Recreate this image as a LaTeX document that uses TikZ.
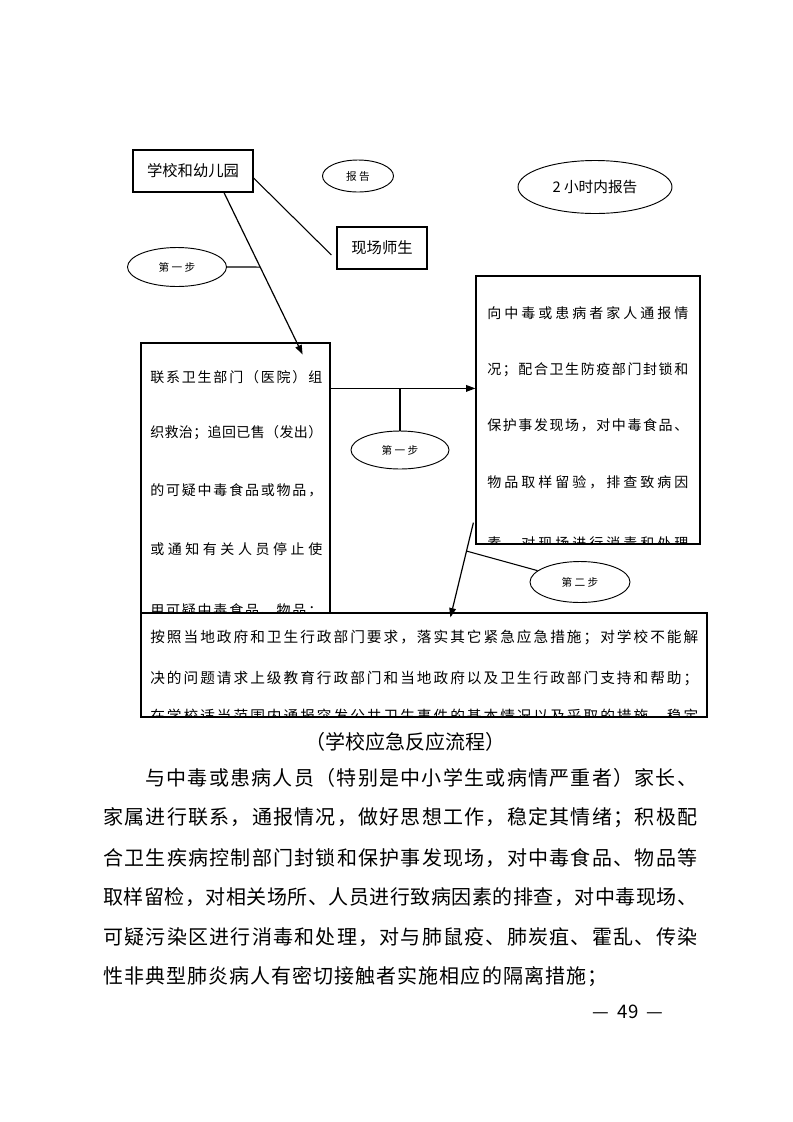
\documentclass[tikz,border=0pt]{standalone}
\usepackage{fontspec}
\setmainfont{Noto Sans CJK SC}
\usepackage{tikz}
\usetikzlibrary{shapes.geometric,arrows.meta,calc}
\newdimen\px \px=0.75pt
% spread the characters of one line evenly over a given width
\def\spreadA#1{\ifx#1\relax\else#1\expandafter\spreadB\fi}
\def\spreadB#1{\ifx#1\relax\else\hfil#1\expandafter\spreadB\fi}
\newcommand{\spaced}[2]{\hbox to #1{\expandafter\spreadA#2\relax}}

\begin{document}
\begin{tikzpicture}[
  x=0.75pt, y=-0.75pt, >={Triangle[length=7pt,width=5pt]},
  box/.style={draw, line width=0.9pt, inner sep=0pt},
  oval/.style={draw, ellipse, line width=0.7pt, inner sep=0pt, font=\fontsize{8}{9}\selectfont},
  link/.style={line width=0.8pt},
  arr/.style={->, line width=0.9pt},
  boxline/.style={anchor=west, inner sep=0pt, font=\fontsize{10.5}{12}\selectfont},
  bodyline/.style={anchor=west, inner sep=0pt, font=\fontsize{15}{18}\selectfont}
]
\useasboundingbox (0,0) rectangle (793,1122);

% boxes
\node[box, minimum width=120\px, minimum height=42\px, font=\fontsize{11.5}{13}\selectfont] (school) at (193,171) {学校和幼儿园};
\node[box, minimum width=90\px, minimum height=42\px, font=\fontsize{11.5}{13}\selectfont] (teach) at (382,248) {现场师生};
\node[box, minimum width=189\px, minimum height=270\px] (act) at (235.5,478) {};
\node[box, minimum width=224\px, minimum height=268\px] (info) at (588,410) {};
\node[box, minimum width=566\px, minimum height=104\px] (help) at (424,665) {};

% ovals
\node[oval, minimum width=71\px, minimum height=32\px] (rep) at (358,176) {报~告};
\node[oval, minimum width=154\px, minimum height=53\px, font=\fontsize{11}{12}\selectfont] (rep2) at (595,187) {2 小时内报告};
\node[oval, minimum width=99\px, minimum height=39\px] (stepA) at (177,267) {第~一~步};
\node[oval, minimum width=98\px, minimum height=38\px] (stepB) at (400,450) {第~一~步};
\node[oval, minimum width=100\px, minimum height=41\px] (stepC) at (580,582) {第~二~步};

% box texts
\begin{scope}
  \clip ([yshift=0.6pt]act.south west) rectangle ([yshift=-0.6pt]act.north east);
  \node[boxline] (a1) at (150,377) {\spaced{172\px}{联系卫生部门（医院）组}};
  \node[boxline] (a2) at (150,433) {\spaced{172\px}{织救治；追回已售（发出）}};
  \node[boxline] (a3) at (150,490) {\spaced{172\px}{的可疑中毒食品或物品，}};
  \node[boxline] (a4) at (150,549) {\spaced{172\px}{或通知有关人员停止使}};
  \node[boxline] (a5) at (150,611) {\spaced{172\px}{用可疑中毒食品、物品；}};
\end{scope}
\begin{scope}
  \clip ([yshift=0.6pt]info.south west) rectangle ([yshift=-0.6pt]info.north east);
  \node[boxline] (i1) at (487,313) {\spaced{201\px}{向中毒或患病者家人通报情}};
  \node[boxline] (i2) at (487,370) {\spaced{201\px}{况；配合卫生防疫部门封锁和}};
  \node[boxline] (i3) at (487,425) {\spaced{201\px}{保护事发现场，对中毒食品、}};
  \node[boxline] (i4) at (487,482) {\spaced{201\px}{物品取样留验，排查致病因}};
  \node[boxline] (i5) at (487,543) {\spaced{201\px}{素，对现场进行消毒和处理}};
\end{scope}
\begin{scope}
  \clip ([yshift=0.6pt]help.south west) rectangle ([yshift=-0.6pt]help.north east);
  \node[boxline, font=\fontsize{11}{12}\selectfont] (h1) at (150,637) {\spaced{548\px}{按照当地政府和卫生行政部门要求，落实其它紧急应急措施；对学校不能解}};
  \node[boxline, font=\fontsize{11}{12}\selectfont] (h2) at (150,678) {\spaced{548\px}{决的问题请求上级教育行政部门和当地政府以及卫生行政部门支持和帮助；}};
  \node[boxline, font=\fontsize{11}{12}\selectfont] (h3) at (150,716) {\spaced{548\px}{在学校适当范围内通报突发公共卫生事件的基本情况以及采取的措施，稳定}};
\end{scope}

% connectors
\draw[link] ([yshift=-7\px]school.east) -- ([xshift=-5\px,yshift=-7\px]teach.west);
\coordinate (a1s) at ([xshift=31\px]school.south);
\coordinate (a1e) at ([xshift=-28\px,yshift=-12\px]act.north east);
\draw[arr] (a1s) -- (a1e);
\coordinate (j1) at ($(a1s)!0.46!(a1e)$);
\draw[link] (stepA.east) -- (j1);
\coordinate (a2s) at ([yshift=-46\px]act.north east);
\draw[arr] (a2s) -- (a2s -| info.west);
\draw[link] (stepB.north) -- (stepB.north |- a2s);
\coordinate (a3s) at ([xshift=-2\px,yshift=22\px]info.south west);
\coordinate (a3e) at ([xshift=310\px,yshift=-5\px]help.north west);
\draw[arr] (a3s) -- (a3e);
\coordinate (j3) at ($(a3s)!0.3!(a3e)$);
\draw[link] (j3) -- (stepC.165);

% caption and body text
\node[inner sep=0pt, font=\fontsize{15}{18}\selectfont] (cap) at (405,742) {（学校应急反应流程）};
\node[bodyline] (p1) at (145,778) {\spaced{552\px}{与中毒或患病人员（特别是中小学生或病情严重者）家长、}};
\foreach \n/\y/\t in {2/818/家属进行联系，通报情况，做好思想工作，稳定其情绪；积极配,
    3/858/合卫生疾病控制部门封锁和保护事发现场，对中毒食品、物品等,
    4/897/取样留检，对相关场所、人员进行致病因素的排查，对中毒现场、,
    5/937/可疑污染区进行消毒和处理，对与肺鼠疫、肺炭疽、霍乱、传染}{
  \node[bodyline] (p\n) at (103,\y) {\spaced{594\px}{\t}};
}
\node[bodyline] (p6) at (103,977) {\spaced{504\px}{性非典型肺炎病人有密切接触者实施相应的隔离措施；}};
\node[inner sep=0pt, font=\fontsize{14}{16}\selectfont] (page) at (628,1012) {—~~49~~—};
\end{tikzpicture}
\end{document}
